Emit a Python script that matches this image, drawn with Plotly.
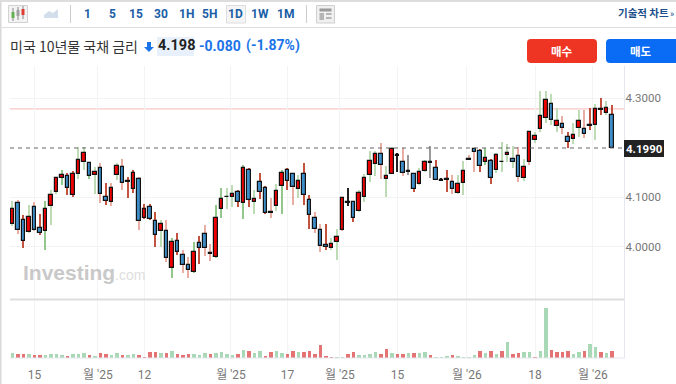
import plotly.graph_objects as go

opens = [4.046,4.087,4.053,4.030,4.080,4.037,4.032,4.081,4.110,4.138,4.143,4.105,4.146,4.171,4.169,4.144,4.159,4.099,4.089,4.145,
4.160,4.131,4.116,4.136,4.058,4.079,4.052,4.032,4.032,3.957,4.012,3.982,3.963,3.948,4.007,4.025,3.984,3.979,4.075,4.099,
4.101,4.111,4.087,4.155,4.089,4.130,4.119,4.068,4.081,4.122,4.155,4.146,4.116,4.146,4.093,4.058,4.033,4.004,3.997,4.009,
4.033,4.087,4.089,4.072,4.099,4.144,4.167,4.186,4.136,4.147,4.185,4.171,4.152,4.147,4.126,4.153,4.170,4.159,4.134,4.136,
4.130,4.109,4.129,4.177,4.196,4.192,4.170,4.172,4.154,4.171,4.185,4.177,4.183,4.139,4.171,4.216,4.238,4.260,4.288,4.243,
4.248,4.221,4.218,4.240,4.237,4.245,4.245,4.277,4.269,4.265]
closes = [4.075,4.033,4.011,4.060,4.034,4.027,4.076,4.105,4.138,4.145,4.119,4.147,4.174,4.188,4.143,4.151,4.107,4.091,4.119,4.162,
4.128,4.132,4.148,4.052,4.076,4.055,4.023,4.046,3.977,4.009,3.988,3.963,3.953,3.989,3.996,3.996,3.986,4.058,4.095,4.100,
4.107,4.090,4.158,4.094,4.095,4.110,4.068,4.070,4.112,4.149,4.133,4.120,4.132,4.105,4.064,4.035,4.001,3.998,4.005,4.020,
4.097,4.089,4.058,4.109,4.139,4.172,4.186,4.165,4.143,4.197,4.183,4.149,4.151,4.117,4.151,4.170,4.168,4.135,4.133,4.135,
4.116,4.127,4.153,4.175,4.190,4.163,4.179,4.139,4.184,4.170,4.189,4.171,4.141,4.161,4.232,4.224,4.264,4.295,4.255,4.253,
4.240,4.212,4.225,4.253,4.227,4.243,4.278,4.275,4.280,4.199]
highs = [4.091,4.093,4.063,4.083,4.089,4.065,4.092,4.115,4.140,4.154,4.149,4.153,4.201,4.201,4.169,4.161,4.169,4.128,4.128,4.169,
4.177,4.140,4.155,4.140,4.085,4.085,4.070,4.054,4.053,4.018,4.027,3.992,3.979,4.009,4.021,4.043,4.005,4.083,4.118,4.119,
4.124,4.114,4.164,4.159,4.114,4.149,4.123,4.097,4.127,4.154,4.159,4.149,4.144,4.169,4.104,4.070,4.046,4.045,4.017,4.036,
4.099,4.118,4.092,4.114,4.147,4.192,4.192,4.210,4.163,4.202,4.189,4.200,4.184,4.149,4.159,4.175,4.204,4.175,4.139,4.154,
4.144,4.144,4.172,4.184,4.198,4.196,4.199,4.177,4.188,4.212,4.208,4.203,4.202,4.177,4.233,4.232,4.314,4.314,4.309,4.279,
4.264,4.231,4.250,4.276,4.276,4.280,4.287,4.301,4.294,4.286]
lows = [4.041,4.025,3.996,4.027,4.031,4.023,3.992,4.043,4.107,4.124,4.105,4.099,4.136,4.154,4.136,4.107,4.088,4.083,4.081,4.134,
4.114,4.097,4.109,4.034,4.055,4.053,3.999,4.000,3.969,3.936,3.982,3.947,3.936,3.947,3.965,3.980,3.970,3.977,4.058,4.076,
4.080,4.080,4.055,4.079,4.066,4.096,4.066,4.057,4.071,4.066,4.115,4.084,4.097,4.084,4.036,4.027,3.989,3.992,3.992,3.972,
4.031,4.081,4.050,4.070,4.090,4.130,4.142,4.137,4.100,4.147,4.151,4.142,4.145,4.110,4.124,4.151,4.138,4.134,4.132,4.110,
4.107,4.107,4.105,4.174,4.151,4.151,4.165,4.126,4.148,4.150,4.170,4.158,4.131,4.133,4.165,4.209,4.232,4.249,4.245,4.232,
4.228,4.200,4.208,4.222,4.219,4.235,4.215,4.266,4.266,4.199]
wick_kinds = list("gprgprGggG" "rrggGgprpg" "prrprrrgpG" "rppGrppGGg" "grGrgrrpgG"
                  "rpgrrpprgg" "pkrggggpgg" "kpnrggnrkr" "pggpprGrgg" "ggpgpggggg" "prggprgrgr")

volumes = [4.7,4,4,4,3,3,2.7,4,4,3.3,2,3.7,4,5.3,3,2.3,4.7,4,3,5.3,
3,2.7,3.7,3,0.3,5.7,5.7,5.3,5,7.3,4,2.7,4,3.7,3,4.7,4,4.7,6.3,4,
3,4,8.3,6.7,5,7.3,2.3,5.7,7.3,4.7,4,6.7,5.7,5.7,6.7,4,12.7,2,0.3,1,
0.2,4,5.7,3,3,4,5.7,4,9.3,4.7,4,4,4.7,5,4.7,5.7,3,0.2,0.2,2,
3,2,0.2,0.2,3,6.7,5.3,6.7,4,6.7,16,4,4.7,5.7,5.7,1,7.3,50,8.3,5.7,
5.7,6.7,4,5.7,7.3,13.7,11,5.7,4.7,6.7]
volume_kinds = list("grrgrrgggg" "rgggrgrrgg" "rggrrrrgrg" "rrrgggrggg" "grgrggrrgg"
                    "rrgrrrrrrg" "grrggggrrg" "rrgrggrggg" "rggggrgrgr" "grrggrggrr" "rrggrggrgr")

LAST_PRICE = 4.199
PREV_CLOSE = 4.278
tick_pos = [4, 15.5, 24, 39.7, 50, 59.5, 70, 82.6, 95, 105.5]
tick_labels = ["15", "월 '25", "12", "월 '25", "17", "월 '25", "15", "월 '26", "18", "월 '26"]
price_ticks = [4.0, 4.1, 4.3]
price_labels = ["4.0000", "4.1000", "4.3000"]
intervals = ["1", "5", "15", "30", "1H", "5H", "1D", "1W", "1M"]

W, H = 676, 384
KR = "Noto Sans CJK KR"
UI = "Roboto, 'Noto Sans CJK KR'"
fx = lambda p: p / W
fy = lambda p: 1 - p / H

wick_palette = {"g": "#bddcb6", "G": "#93c78b", "r": "#c2543f", "p": "#e8aea3", "k": "#222222", "n": "#9a9a9a"}
vol_palette = {"g": "#a8d8b6", "r": "#e47474"}
x = list(range(len(opens)))
body_colors = ["#ee0000" if c >= o else "#3d8dc8" for o, c in zip(opens, closes)]

fig = go.Figure()
fig.add_bar(x=x, base=lows, y=[h - l for h, l in zip(highs, lows)], width=0.25,
            marker=dict(color=[wick_palette[k] for k in wick_kinds], line_width=0),
            hoverinfo="skip", showlegend=False)
fig.add_bar(x=x, base=[min(o, c) for o, c in zip(opens, closes)],
            y=[max(abs(c - o), 0.001) for o, c in zip(opens, closes)], width=0.62,
            marker=dict(color=body_colors, line=dict(color="#111111", width=1.2)),
            hoverinfo="skip", showlegend=False)
fig.add_bar(x=x, y=volumes, xaxis="x2", yaxis="y2", width=0.62,
            marker=dict(color=[vol_palette[k] for k in volume_kinds], line_width=0),
            hoverinfo="skip", showlegend=False)

left, right = 10, 624.5
x0, step = 12.6, 5.5
xr = [(left - x0) / step, (right - x0) / step]
top_pane, bottom_pane, vol_top, vol_bottom = 66, 299, 300, 358
price_at = lambda py: 4.3 - (py - 98) / 495

shapes, anns = [], []
def line(x1, y1, x2, y2, color, width=1, dash=None, layer="above"):
    shapes.append(dict(type="line", xref="paper", yref="paper", x0=fx(x1), y0=fy(y1), x1=fx(x2), y1=fy(y2),
                       line=dict(color=color, width=width, dash=dash or "solid"), layer=layer))
def rect(x1, y1, x2, y2, fill, border=None, layer="above"):
    shapes.append(dict(type="rect", xref="paper", yref="paper", x0=fx(x1), y0=fy(y1), x1=fx(x2), y1=fy(y2),
                       fillcolor=fill, line=dict(color=border or fill, width=1 if border else 0), layer=layer))
def poly(points, fill):
    d = "M" + " L".join(f"{fx(a):.5f},{fy(b):.5f}" for a, b in points) + " Z"
    shapes.append(dict(type="path", xref="paper", yref="paper", path=d, fillcolor=fill, line=dict(width=0), layer="above"))
def rrect(x1, y1, x2, y2, r, fill):
    d = (f"M{fx(x1+r):.5f},{fy(y1):.5f} L{fx(x2-r):.5f},{fy(y1):.5f} Q{fx(x2):.5f},{fy(y1):.5f} {fx(x2):.5f},{fy(y1+r):.5f} "
         f"L{fx(x2):.5f},{fy(y2-r):.5f} Q{fx(x2):.5f},{fy(y2):.5f} {fx(x2-r):.5f},{fy(y2):.5f} "
         f"L{fx(x1+r):.5f},{fy(y2):.5f} Q{fx(x1):.5f},{fy(y2):.5f} {fx(x1):.5f},{fy(y2-r):.5f} "
         f"L{fx(x1):.5f},{fy(y1+r):.5f} Q{fx(x1):.5f},{fy(y1):.5f} {fx(x1+r):.5f},{fy(y1):.5f} Z")
    shapes.append(dict(type="path", xref="paper", yref="paper", path=d, fillcolor=fill, line=dict(width=0), layer="above"))
def text(px, py, s, size, color, anchor="left", bold=False, family=UI):
    anns.append(dict(xref="paper", yref="paper", x=fx(px), y=fy(py), text=f"<b>{s}</b>" if bold else s, showarrow=False,
                     xanchor=anchor, yanchor="middle", font=dict(size=size, color=color, family=family),
                     borderpad=0, borderwidth=0))

# chrome
line(0.5, 0, 0.5, H, "#d8d8d8", 2)
line(0, 1, W, 1, "#dddddd", 2)
line(0, 27.5, W, 27.5, "#dddddd", 1)
line(70.5, 5, 70.5, 23, "#cccccc")
line(306.5, 5, 306.5, 23, "#cccccc")
rect(8.5, 5.5, 27.5, 22.5, "#f3f3f3", "#d2d2d2")
for cx, cy0, cy1, wy0, wy1, col in [(13, 12, 18, 8, 21, "#62b04f"), (18, 10, 16, 7, 20, "#a0a0a0"), (23, 9, 15, 6, 19, "#e03c31")]:
    line(cx, wy0, cx, wy1, "#888888")
    rect(cx - 1.5, cy0, cx + 1.5, cy1, col)
poly([(44, 18), (44, 15), (49, 11), (53, 13), (58, 9), (58, 18)], "#d3deec")
rect(226.5, 5.5, 245.5, 23, "#f5f5f5", "#dddddd")
for ix, lab in zip([87, 112, 136, 161, 186, 210, 235, 260, 285], intervals):
    text(ix, 13.5, lab, 12, "#1a5ea6", "center", True)
rect(316.5, 5.5, 334.5, 23, "#f0f0f0", "#cfcfcf")
rect(319.5, 8.5, 331.5, 11.5, "#9a9a9a")
rect(319.5, 13, 324, 20, "#b5b5b5")
rect(326, 13, 331.5, 15, "#b5b5b5")
rect(326, 17, 331.5, 19, "#b5b5b5")
text(618, 13, "기술적 차트", 10.5, "#1a4f8b", "left", True, KR)
text(670, 14, "»", 9, "#1a4f8b", "left", False)

# quote line
text(10, 46, "미국 10년물 국채 금리", 14, "#333333", "left", False, KR)
poly([(147, 42), (151, 42), (151, 47), (154, 47), (149, 52), (144, 47), (147, 47)], "#1a73e8")
rect(157, 37, 194, 56, "#e8f1fb")
text(157.5, 46, "4.198", 14.5, "#222222", "left", True)
text(199, 46, "-0.080", 14, "#1a73e8", "left", True)
text(246, 46, "(-1.87%)", 14, "#1a73e8", "left", True)
rrect(527, 39, 597, 63, 4, "#ee3524")
rrect(606, 39, 680, 63, 4, "#0a6cf5")
text(562, 51, "매수", 11.5, "#ffffff", "center", True, KR)
text(641, 51, "매도", 11.5, "#ffffff", "center", True, KR)

# panes
line(left, 299.5, right, 299.5, "#dddddd", 2)
line(right, top_pane, right, vol_bottom, "#e4e7ee")
line(left, vol_bottom, right, vol_bottom, "#e4e7ee")
shapes.append(dict(type="line", xref="paper", yref="y", x0=fx(left), x1=fx(right), y0=PREV_CLOSE, y1=PREV_CLOSE,
                   line=dict(color="#f9c7c7", width=1.2), layer="below"))
shapes.append(dict(type="line", xref="paper", yref="y", x0=fx(left), x1=fx(right), y0=LAST_PRICE, y1=LAST_PRICE,
                   line=dict(color="#666666", width=1, dash="4px,4px"), layer="above"))
rect(624, 140, 664, 157, "#222222")
text(644, 148.5, f"{LAST_PRICE:.4f}", 11.5, "#ffffff", "center", True)

# watermark
text(23, 272, "Investing", 21, "#c9c9c9", "left", True, "Liberation Sans")
text(115, 275, ".com", 14, "#dedede", "left", False, "Liberation Sans")

fig.update_layout(
    width=W, height=H, margin=dict(l=0, r=0, t=0, b=0), paper_bgcolor="#ffffff", plot_bgcolor="#ffffff",
    barmode="overlay", bargap=0, showlegend=False, shapes=shapes, annotations=anns,
    font=dict(family=UI),
    xaxis=dict(domain=[fx(left), fx(right)], range=xr, anchor="y", tickvals=tick_pos, showticklabels=False,
               showgrid=True, gridcolor="#f3f3f3", gridwidth=1, zeroline=False, ticks=""),
    xaxis2=dict(domain=[fx(left), fx(right)], range=xr, anchor="y2", tickvals=tick_pos, ticktext=tick_labels,
                tickfont=dict(size=12, color="#777777", family="Roboto, 'Noto Sans CJK KR'"),
                showgrid=True, gridcolor="#f3f3f3", gridwidth=1, zeroline=False, ticks="outside", ticklen=6,
                tickcolor="rgba(0,0,0,0)", tickangle=0),
    yaxis=dict(domain=[fy(bottom_pane), fy(top_pane)], range=[price_at(bottom_pane), price_at(top_pane)], side="right",
               anchor="x", tickvals=price_ticks, ticktext=price_labels,
               tickfont=dict(size=11.5, color="#777777", family="Roboto"), showgrid=True, gridcolor="#f3f3f3",
               zeroline=False, ticks="", ticklen=0),
    yaxis2=dict(domain=[fy(vol_bottom), fy(vol_top)], range=[0, 58], anchor="x2", showticklabels=False,
                showgrid=False, zeroline=False, ticks=""),
)
fig.write_html("out.html", config=dict(displayModeBar=False),
               post_script="document.body.style.margin='0';document.body.style.overflow='hidden';")
